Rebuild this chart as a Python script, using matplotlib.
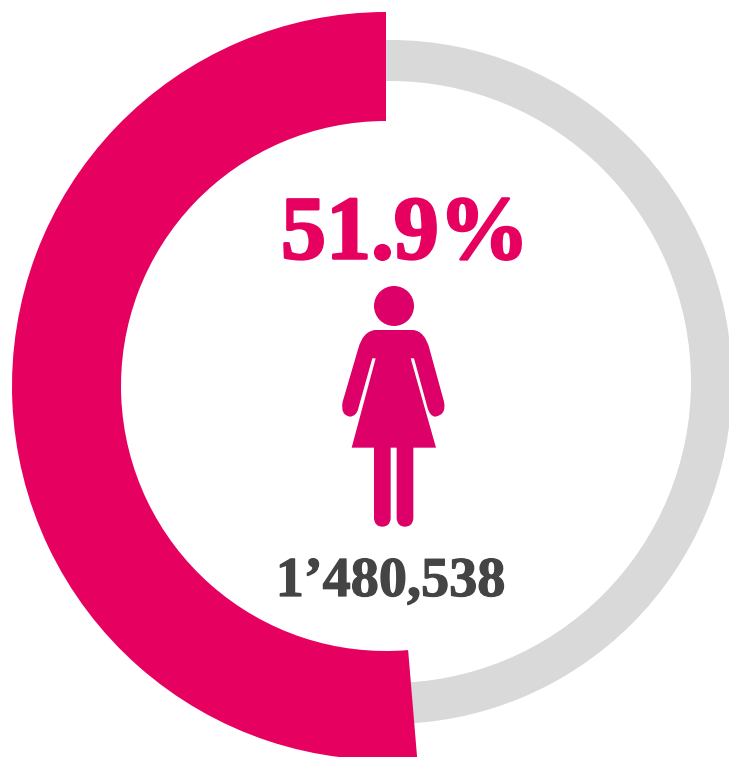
import numpy as np
import matplotlib
matplotlib.use("Agg")
import matplotlib.pyplot as plt
import matplotlib.patheffects as pe
from matplotlib.path import Path
from matplotlib.patches import PathPatch, Circle

# Data: share of the ring as drawn, and the labels
categories = ["Women", "Rest"]
drawn_share = [51.33, 48.67]
percent_label = "51.9%"
count_label = "1\u2019480,538"

PINK = "#E6005F"
ICON = "#DC0068"
GREY = "#D9D9D9"
DARK = "#444444"

W, H = 729, 757
fig = plt.figure(figsize=(W / 100, H / 100), dpi=100, facecolor="white")
ax = fig.add_axes([0, 0, 1, 1])

cx, cy = 386, H - 386

# grey (thin) ring: sits slightly off-centre and runs on underneath the pink ring
ax.pie([sum(drawn_share)], radius=342, center=(390, H - 382), startangle=180,
       colors=[GREY], wedgeprops=dict(width=41, linewidth=0))
# pink (thick) ring, main share
ax.pie(drawn_share, radius=374, center=(cx, cy), startangle=90, counterclock=True,
       colors=[PINK, "none"], wedgeprops=dict(width=109, linewidth=0))

ax.set_xlim(0, W)
ax.set_ylim(0, H)
ax.set_aspect("auto")
ax.axis("off")

# Labels
t1 = ax.text(405, H - 236.5, percent_label, ha="center", va="center", color=PINK,
             family="Liberation Serif", weight="bold", fontsize=65)
t1.set_path_effects([pe.withStroke(linewidth=1.8, foreground=PINK)])
t2 = ax.text(390.5, H - 582, count_label, ha="center", va="center", color=DARK,
             family="Liberation Serif", weight="bold", fontsize=40.5)
t2.set_path_effects([pe.withStroke(linewidth=0.9, foreground=DARK)])

# Woman icon, traced outline (zoom-crop coordinates converted to pixels)
M, L, Q = Path.MOVETO, Path.LINETO, Path.CURVE3
seq = [
    (M, (345, 450)), (L, (460, 450)),
    (Q, (495, 455)), (Q, (508, 505)),
    (L, (552, 665)),
    (Q, (560, 705)), (Q, (525, 710)),
    (Q, (510, 708)), (Q, (503, 685)),
    (L, (462, 535)), (L, (452, 535)),
    (L, (528, 803)), (L, (460, 803)), (L, (460, 1015)),
    (Q, (458, 1040)), (Q, (435, 1040)),
    (Q, (412, 1040)), (Q, (410, 1015)),
    (L, (410, 803)), (L, (392, 803)), (L, (392, 1015)),
    (Q, (390, 1040)), (Q, (367, 1040)),
    (Q, (344, 1040)), (Q, (342, 1015)),
    (L, (342, 803)), (L, (275, 803)),
    (L, (347, 535)), (L, (337, 535)),
    (L, (295, 685)),
    (Q, (290, 708)), (Q, (270, 710)),
    (Q, (240, 705)), (Q, (248, 665)),
    (L, (295, 505)),
    (Q, (308, 455)), (Q, (345, 450)),
]
codes = [c for c, _ in seq]
pts = np.array([p for _, p in seq], dtype=float)
pts = np.column_stack([260 + pts[:, 0] / 3, H - (180 + pts[:, 1] / 3)])
ax.add_patch(PathPatch(Path(pts, codes), facecolor=ICON, edgecolor="none"))
ax.add_patch(Circle((394, H - 306), 20, facecolor=ICON, edgecolor="none"))

fig.savefig("out.png", dpi=100, facecolor="white")
